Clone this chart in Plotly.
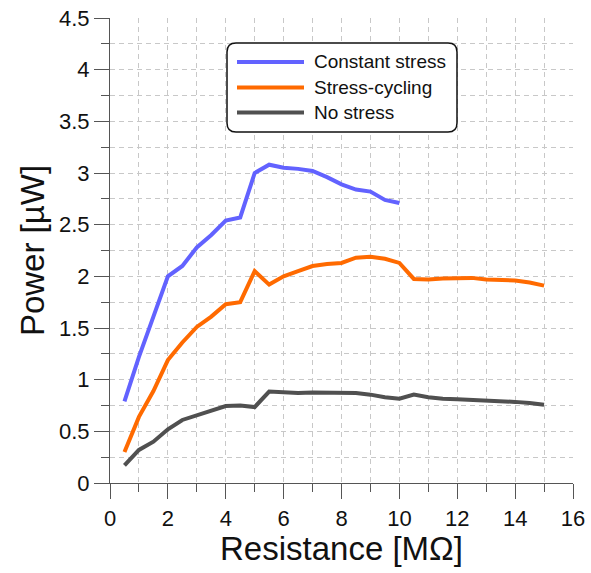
import plotly.graph_objects as go

# Load resistance [MΩ] and output power [µW] for the three conditions
r_const = [0.5, 1.0, 1.5, 2.0, 2.5, 3.0, 3.5, 4.0, 4.5, 5.0, 5.5, 6.0, 6.5, 7.0,
           7.5, 8.0, 8.5, 9.0, 9.5, 10.0]
p_const = [0.79, 1.22, 1.61, 2.00, 2.10, 2.28, 2.40, 2.54, 2.57, 3.00, 3.08, 3.05,
           3.04, 3.02, 2.96, 2.89, 2.84, 2.82, 2.74, 2.71]

r_cycle = [0.5, 1.0, 1.5, 2.0, 2.5, 3.0, 3.5, 4.0, 4.5, 5.0, 5.5, 6.0, 6.5, 7.0,
           7.5, 8.0, 8.5, 9.0, 9.5, 10.0, 10.5, 11.0, 11.5, 12.0, 12.5, 13.0,
           13.5, 14.0, 14.5, 15.0]
p_cycle = [0.30, 0.64, 0.89, 1.19, 1.36, 1.51, 1.61, 1.73, 1.75, 2.05, 1.92, 2.00,
           2.05, 2.10, 2.12, 2.13, 2.18, 2.19, 2.17, 2.13, 1.975, 1.97, 1.98,
           1.985, 1.985, 1.97, 1.965, 1.96, 1.94, 1.91]

r_none = [0.5, 1.0, 1.5, 2.0, 2.5, 3.0, 3.5, 4.0, 4.5, 5.0, 5.5, 6.0, 6.5, 7.0,
          7.5, 8.0, 8.5, 9.0, 9.5, 10.0, 10.5, 11.0, 11.5, 12.0, 12.5, 13.0,
          13.5, 14.0, 14.5, 15.0]
p_none = [0.17, 0.32, 0.40, 0.52, 0.61, 0.655, 0.69, 0.745, 0.75, 0.735, 0.885,
          0.88, 0.87, 0.875, 0.873, 0.87, 0.87, 0.855, 0.83, 0.815, 0.855, 0.83,
          0.815, 0.81, 0.805, 0.797, 0.79, 0.785, 0.775, 0.758]

series_names = ["Constant stress", "Stress-cycling", "No stress"]
series_colors = ["#6262ff", "#ff6a00", "#505050"]

FONT = "Arial, 'Liberation Sans', sans-serif"
W, H = 591, 573
M_L, M_R, M_T, M_B = 110, 18, 18, 90
PW, PH = W - M_L - M_R, H - M_T - M_B

fig = go.Figure()
for xs, ys, name, col in zip([r_const, r_cycle, r_none], [p_const, p_cycle, p_none],
                             series_names, series_colors):
    fig.add_trace(go.Scatter(x=xs, y=ys, mode="lines", name=name,
                             line=dict(color=col, width=4), showlegend=False))

grid = dict(gridcolor="#c8c8c8", griddash="5px,4px", gridwidth=1)

fig.update_xaxes(
    range=[0, 16], dtick=2, tick0=0, showline=True, linecolor="#555555", linewidth=1.2,
    ticks="outside", ticklen=15, tickwidth=1.2, tickcolor="#555555",
    tickfont=dict(family=FONT, size=22, color="#111111"),
    minor=dict(dtick=1, ticks="outside", ticklen=8, tickwidth=1.2, tickcolor="#555555",
               showgrid=True, **grid),
    showgrid=True, zeroline=False, **grid,
    title=dict(text="Resistance [MΩ]", font=dict(family=FONT, size=33, color="#111111"),
               standoff=5),
)
fig.update_yaxes(
    range=[0, 4.5], dtick=0.5, tick0=0, showline=True, linecolor="#555555", linewidth=1.2,
    ticks="outside", ticklen=15, tickwidth=1.2, tickcolor="#555555",
    tickfont=dict(family=FONT, size=22, color="#111111"),
    minor=dict(dtick=0.25, ticks="outside", ticklen=8, tickwidth=1.2, tickcolor="#555555",
               showgrid=True, **grid),
    showgrid=True, zeroline=False, **grid,
    title=dict(text="Power [µW]", font=dict(family=FONT, size=33, color="#111111"),
               standoff=4),
)


# Legend drawn as a rounded box in pixel units converted to paper coordinates
def px(x):
    return (x - M_L) / PW


def py(y):
    return (H - M_B - y) / PH


def rounded_box(x0, y0, x1, y1, r):
    pts = [
        f"M {px(x0 + r)},{py(y0)}",
        f"L {px(x1 - r)},{py(y0)}",
        f"Q {px(x1)},{py(y0)} {px(x1)},{py(y0 + r)}",
        f"L {px(x1)},{py(y1 - r)}",
        f"Q {px(x1)},{py(y1)} {px(x1 - r)},{py(y1)}",
        f"L {px(x0 + r)},{py(y1)}",
        f"Q {px(x0)},{py(y1)} {px(x0)},{py(y1 - r)}",
        f"L {px(x0)},{py(y0 + r)}",
        f"Q {px(x0)},{py(y0)} {px(x0 + r)},{py(y0)} Z",
    ]
    return " ".join(pts)


fig.add_shape(type="path", xref="paper", yref="paper",
              path=rounded_box(227, 43, 457, 132, 9),
              line=dict(color="#111111", width=1.5), fillcolor="white", layer="above")

row_y = [62, 87.5, 112.5]
for yy, name, col in zip(row_y, series_names, series_colors):
    fig.add_shape(type="line", xref="paper", yref="paper",
                  x0=px(237), x1=px(304), y0=py(yy), y1=py(yy),
                  line=dict(color=col, width=4), layer="above")
    fig.add_annotation(xref="paper", yref="paper", x=px(312), y=py(yy),
                       text=name, showarrow=False, xanchor="left", yanchor="middle",
                       font=dict(family=FONT, size=19, color="#111111"))

fig.update_layout(
    width=W, height=H,
    margin=dict(l=M_L, r=M_R, t=M_T, b=M_B, autoexpand=False),
    paper_bgcolor="white", plot_bgcolor="white",
    font=dict(family=FONT),
)

fig.write_html("out.html")
